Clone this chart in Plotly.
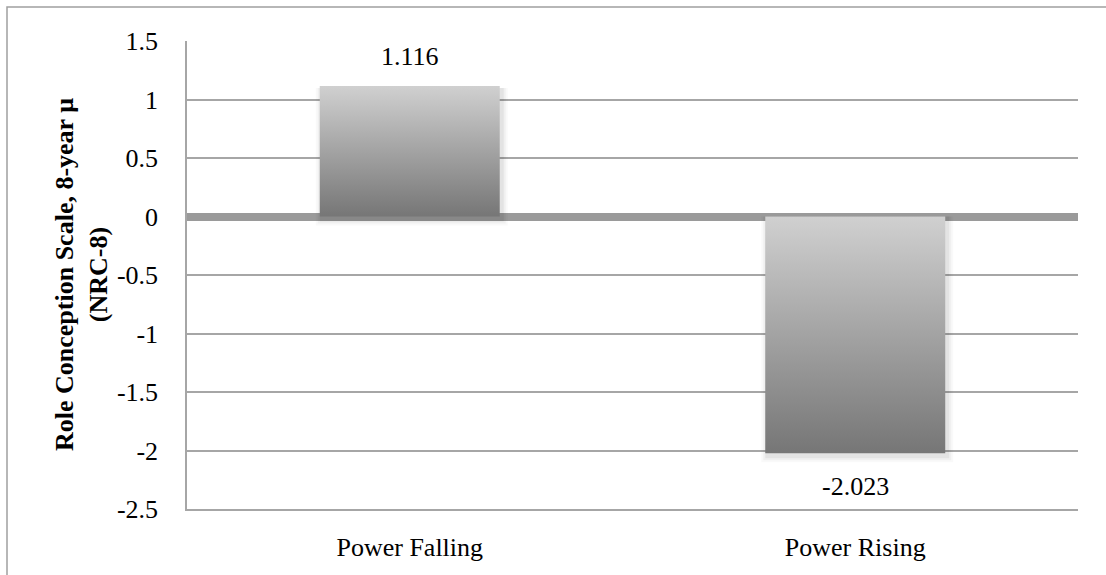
import plotly.graph_objects as go

categories = ["Power Falling", "Power Rising"]
values = [1.116, -2.023]
value_labels = ["1.116", "-2.023"]
y_tickvals = [1.5, 1, 0.5, 0, -0.5, -1, -1.5, -2, -2.5]
y_ticktext = ["1.5", "1", "0.5", "0", "-0.5", "-1", "-1.5", "-2", "-2.5"]
y_title = "Role Conception Scale, 8-year μ<br>(NRC-8)"

W, H = 1106, 575
L, R, T, B = 187, 28, 41, 66
plot_w = W - L - R
plot_h = H - T - B
x_range = [-0.5, 1.5]
y_range = [-2.5, 1.5]
px_x = (x_range[1] - x_range[0]) / plot_w
px_y = (y_range[1] - y_range[0]) / plot_h
half = 0.202
FONT = "Liberation Serif"

fig = go.Figure()

# soft shadows
for i, v in enumerate(values):
    for k, a in [(6, 0.025), (4, 0.035), (2, 0.05)]:
        x0 = i - half - k * px_x + 2 * px_x
        x1 = i + half + k * px_x + 2 * px_x
        if v < 0:
            y0 = 0
            y1 = v - k * px_y - 3 * px_y
        else:
            y0 = 0 - k * px_y - 3 * px_y
            y1 = v - 2 * px_y
        fig.add_trace(go.Scatter(
            x=[x0, x1, x1, x0, x0], y=[y0, y0, y1, y1, y0],
            mode="lines", line=dict(width=0), fill="toself",
            fillcolor=f"rgba(0,0,0,{a})", hoverinfo="skip", showlegend=False))

# gradient bars
for i, v in enumerate(values):
    x0, x1 = i - half, i + half
    fig.add_trace(go.Scatter(
        x=[x0, x1, x1, x0, x0], y=[0, 0, v, v, 0],
        mode="lines", line=dict(width=0), fill="toself",
        fillgradient=dict(type="vertical",
                          colorscale=[[0, "#767676"], [1, "#d0d0d0"]]),
        hoverinfo="skip", showlegend=False))

# value labels
for i, (v, t) in enumerate(zip(values, value_labels)):
    fig.add_annotation(
        x=i, y=v, text=t, showarrow=False,
        yanchor="bottom" if v > 0 else "top",
        yshift=13 if v > 0 else -17,
        font=dict(family=FONT, size=26, color="#000000"))

fig.add_annotation(
    xref="paper", yref="paper",
    x=(81 - L) / plot_w, y=0.5, text=y_title, textangle=-90,
    showarrow=False, xanchor="center", yanchor="middle",
    font=dict(family=FONT, size=26, color="#000000", weight="bold"))

# outer border
fig.add_shape(type="rect", xref="paper", yref="paper",
              x0=(7 - L) / plot_w, x1=(W + 20 - L) / plot_w,
              y0=(H - B - (H + 20)) / plot_h, y1=(H - B - 7) / plot_h,
              line=dict(color="#a0a0a0", width=1.5), fillcolor="rgba(0,0,0,0)",
              layer="below")

fig.update_layout(
    width=W, height=H,
    margin=dict(l=L, r=R, t=T, b=B),
    paper_bgcolor="white", plot_bgcolor="white",
    font=dict(family=FONT, size=26, color="#000000"),
    showlegend=False,
)
fig.update_xaxes(
    range=x_range, tickvals=[0, 1], ticktext=categories,
    showgrid=False, zeroline=False,
    showline=True, linecolor="#a6a6a6", linewidth=1.5,
    ticks="outside", ticklen=14, tickcolor="rgba(0,0,0,0)",
    tickfont=dict(family=FONT, size=26, color="#000000"),
)
fig.update_yaxes(
    range=y_range, tickvals=y_tickvals, ticktext=y_ticktext,
    showgrid=True, gridcolor="#a6a6a6", gridwidth=1.5,
    zeroline=True, zerolinecolor="#9a9a9a", zerolinewidth=8,
    showline=True, linecolor="#a6a6a6", linewidth=1.5,
    ticks="outside", ticklen=22, tickcolor="rgba(0,0,0,0)",
    tickfont=dict(family=FONT, size=26, color="#000000"),
)

fig.write_html("out.html",
               config={"displayModeBar": False},
               post_script="document.body.style.margin='0px';document.body.style.overflow='hidden';")
